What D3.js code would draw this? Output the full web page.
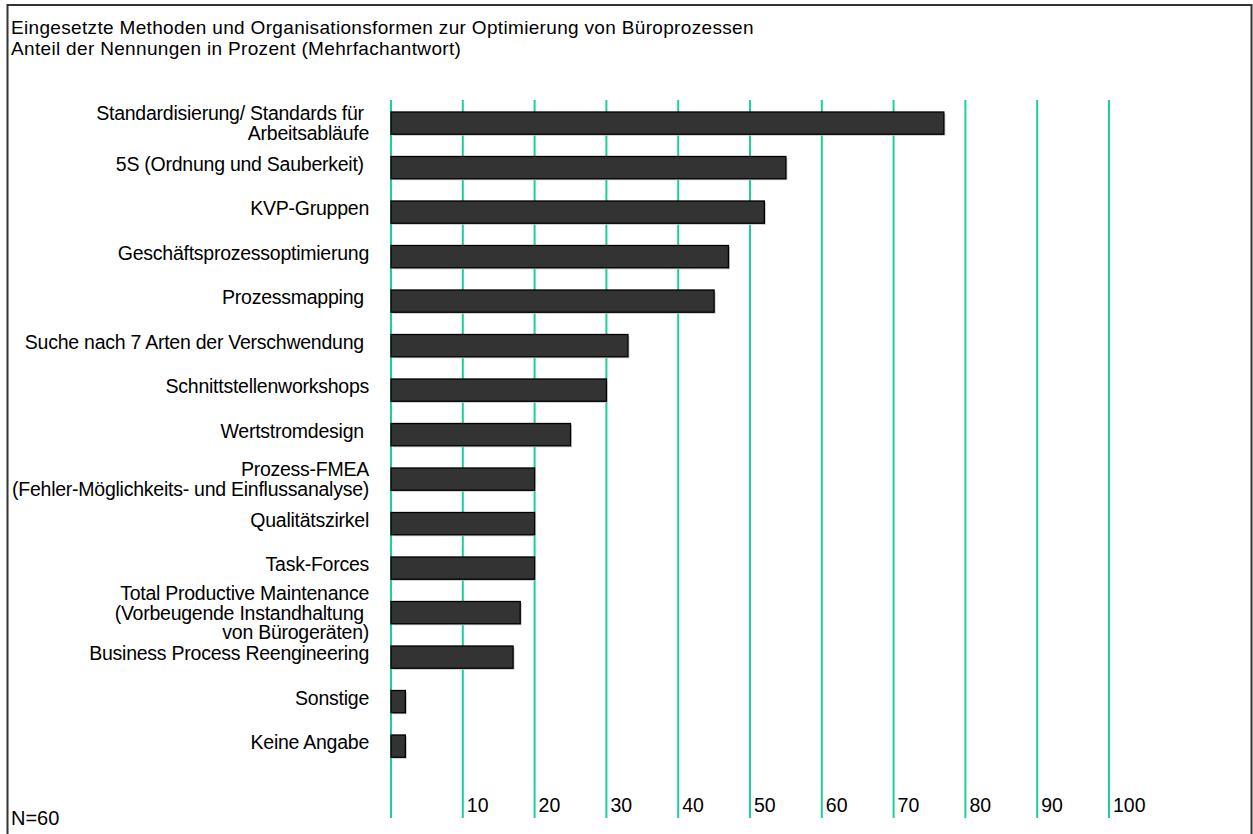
<!DOCTYPE html>
<html>
<head>
<meta charset="utf-8">
<script src="https://cdn.jsdelivr.net/npm/d3@7"></script>
<style>
  html, body { margin: 0; padding: 0; background: #fff; }
  svg { display: block; font-family: "Liberation Sans", Arial, Helvetica, sans-serif; }
  text { white-space: pre; }
</style>
</head>
<body>
<svg id="chart" width="1253" height="834"></svg>
<script>
// ---- data ----
const titleLines = [
  "Eingesetzte Methoden und Organisationsformen zur Optimierung von Büroprozessen",
  "Anteil der Nennungen in Prozent (Mehrfachantwort)"
];
const categories = [
  ["Standardisierung/ Standards für ", "Arbeitsabläufe"],
  ["5S (Ordnung und Sauberkeit) "],
  ["KVP-Gruppen"],
  ["Geschäftsprozessoptimierung"],
  ["Prozessmapping "],
  ["Suche nach 7 Arten der Verschwendung "],
  ["Schnittstellenworkshops"],
  ["Wertstromdesign "],
  ["Prozess-FMEA", "(Fehler-Möglichkeits- und Einflussanalyse)"],
  ["Qualitätszirkel"],
  ["Task-Forces"],
  ["Total Productive Maintenance", "(Vorbeugende Instandhaltung ", "von Bürogeräten)"],
  ["Business Process Reengineering"],
  ["Sonstige"],
  ["Keine Angabe"]
];
const values = [77, 55, 52, 47, 45, 33, 30, 25, 20, 20, 20, 18, 17, 2, 2];
const tickValues = [0, 10, 20, 30, 40, 50, 60, 70, 80, 90, 100];
const tickLabels = ["", "10", "20", "30", "40", "50", "60", "70", "80", "90", "100"];
const footnote = "N=60";

// ---- drawing ----
const svg = d3.select("#chart");
const ids = categories.map((c, i) => i);

const x = d3.scaleLinear().domain([0, 100]).range([391, 1109]);
const y = d3.scaleBand().domain(ids).range([89.75, 779.5]).paddingInner(0.5).paddingOuter(0.5);

// frame
svg.append("rect")
  .attr("x", 7.5).attr("y", 5).attr("width", 1244).attr("height", 840)
  .attr("fill", "none").attr("stroke", "#333").attr("stroke-width", 2);

// title (one text block, two lines)
svg.append("text")
  .attr("font-size", 19).attr("letter-spacing", 0.33).attr("fill", "#000")
  .selectAll("tspan").data(titleLines).join("tspan")
  .attr("x", 11).attr("y", (d, i) => 33.5 + i * 21.5)
  .text(d => d);

// gridlines
svg.append("g").selectAll("line").data(tickValues).join("line")
  .attr("x1", d => x(d)).attr("x2", d => x(d))
  .attr("y1", 100).attr("y2", 818)
  .attr("stroke", "#1ccf9d").attr("stroke-width", 2);

// tick labels
svg.append("g").selectAll("text").data(tickValues).join("text")
  .attr("x", d => x(d) + 4).attr("y", 812)
  .attr("font-size", 19.5).attr("fill", "#000")
  .text((d, i) => tickLabels[i]);

// bars: shadow + bar
const bars = svg.append("g");
bars.selectAll("rect.sh").data(values).join("rect").attr("class", "sh")
  .attr("x", x(0) + 1.5).attr("y", (d, i) => y(i) + 1.5)
  .attr("width", d => x(d) - x(0)).attr("height", y.bandwidth())
  .attr("fill", "#c4c4c4");
bars.selectAll("rect.bar").data(values).join("rect").attr("class", "bar")
  .attr("x", x(0)).attr("y", (d, i) => y(i))
  .attr("width", d => x(d) - x(0)).attr("height", y.bandwidth())
  .attr("fill", "#333").attr("stroke", "#000").attr("stroke-width", 1.3);

// category labels
const lineH = 19.5;
const lab = svg.append("g");
categories.forEach((lines, i) => {
  const c = y(i) + y.bandwidth() / 2;
  const n = lines.length;
  const shift = n > 1 ? 4 : 0;
  lab.append("text")
    .attr("text-anchor", "end").attr("font-size", 19.5).attr("letter-spacing", -0.25).attr("fill", "#000")
    .selectAll("tspan").data(lines).join("tspan")
    .attr("x", 369)
    .attr("y", (d, k) => c + 3 + shift + (k - (n - 1) / 2) * lineH)
    .text(d => d);
});

// footnote
svg.append("text").attr("x", 11).attr("y", 825)
  .attr("font-size", 20).attr("fill", "#000").text(footnote);
</script>
</body>
</html>
